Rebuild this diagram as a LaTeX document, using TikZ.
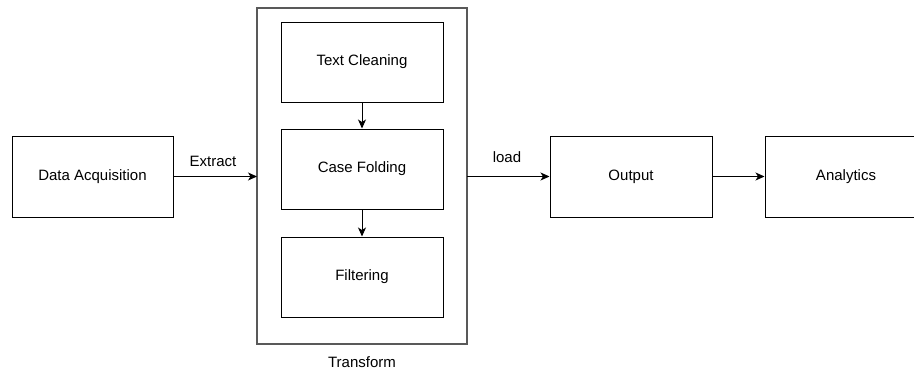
\documentclass[tikz,border=0pt]{standalone}
\usepackage{fontspec}
\setmainfont{Liberation Sans}
\usetikzlibrary{arrows.meta}
\begin{document}
\begin{tikzpicture}[x=1pt,y=-1pt,
  box/.style={draw=black,line width=1pt,fill=white,font=\fontsize{15}{17}\selectfont},
  arr/.style={draw=black,line width=1pt,-{Stealth[length=9pt,width=8pt,inset=2.5pt]}},
  lbl/.style={font=\fontsize{15}{17}\selectfont}]
\useasboundingbox (0,0) rectangle (914,372);
\draw[draw=black!65,line width=1.4pt] (257,8) rectangle (467,344);
\node[box,minimum width=161pt,minimum height=81pt] (acq) at (92.5,176.5) {Data Acquisition};
\node[box,minimum width=162pt,minimum height=80pt] (clean) at (362,62) {Text Cleaning};
\node[box,minimum width=162pt,minimum height=80pt] (fold) at (362,169) {Case Folding};
\node[box,minimum width=162pt,minimum height=80pt] (filt) at (362,277) {Filtering};
\node[box,minimum width=162pt,minimum height=81pt] (out) at (631,176.5) {Output};
\node[box,minimum width=162pt,minimum height=81pt] (ana) at (846,176.5) {Analytics};
\coordinate (tl) at (257,176.5);
\coordinate (tr) at (467,176.5);
\draw[arr] (acq.east) -- (tl);
\draw[arr] (tr) -- (out.west);
\draw[arr] (out.east) -- (ana.west);
\draw[arr] (clean.south) -- (fold.north);
\draw[arr] (fold.south) -- (filt.north);
\node[lbl] (ext) at (213,161) {Extract};
\node[lbl] (load) at (507,157) {load};
\node[lbl] (tf) at (362,362) {Transform};
\end{tikzpicture}
\end{document}
